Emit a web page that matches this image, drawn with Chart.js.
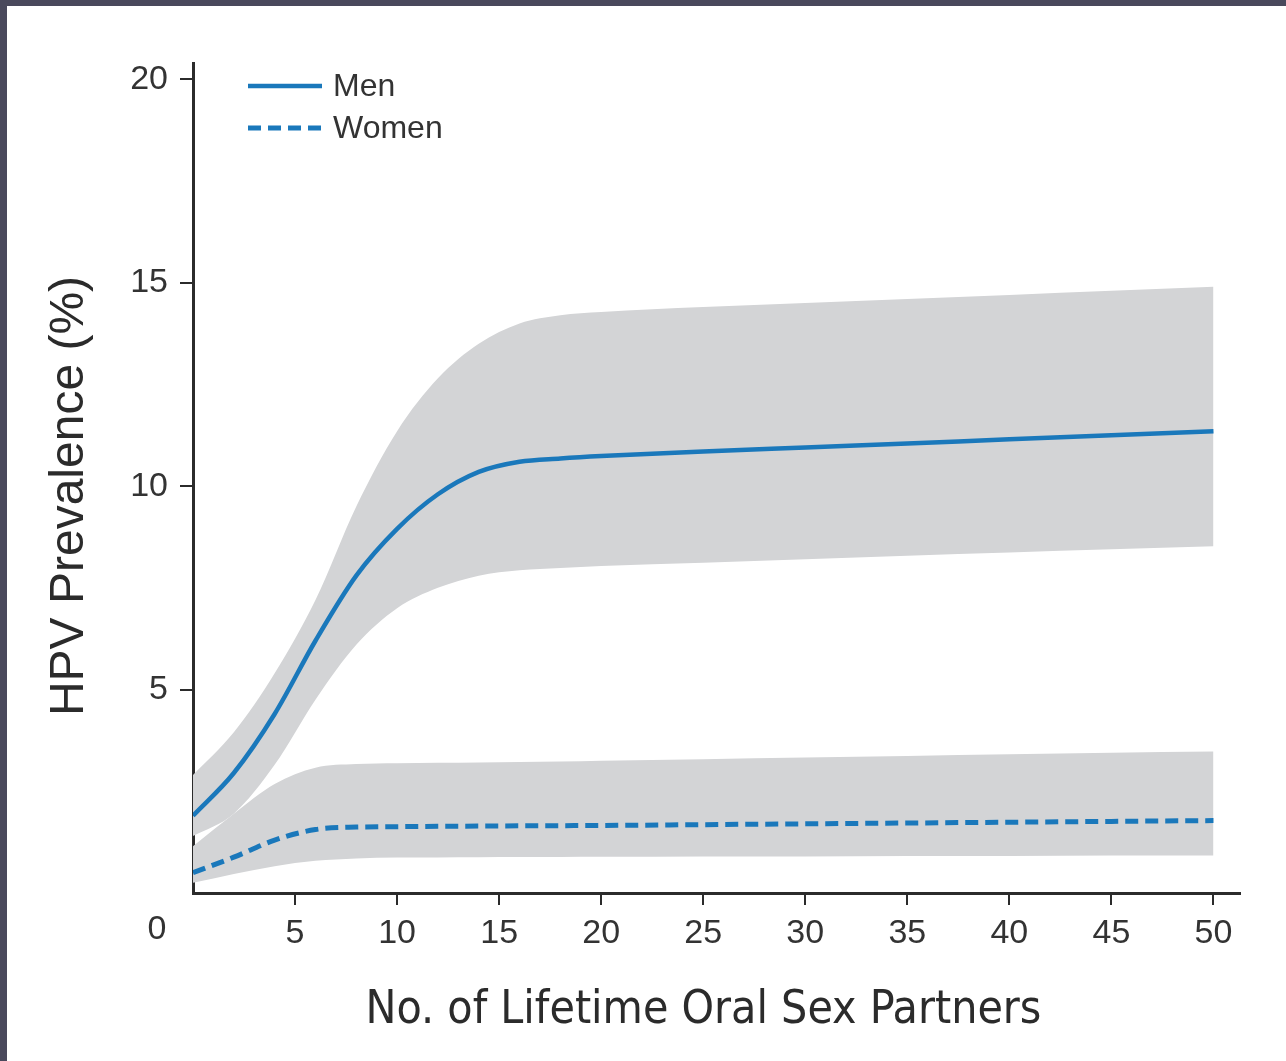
<!DOCTYPE html>
<html>
<head>
<meta charset="utf-8">
<script src="https://cdn.jsdelivr.net/npm/chart.js@4"></script>
<style>
  html, body { margin: 0; padding: 0; background: #4a495c; }
  #frame { position: absolute; left: 7px; top: 6px; width: 1279px; height: 1055px; background: #ffffff; }
  #frame canvas { display: block; }
</style>
</head>
<body>
<div id="frame"><canvas id="hpvChart" width="1279" height="1055"></canvas></div>
<script>
// number of lifetime oral sex partners
let partners   = [0, 2, 4, 6, 8, 10, 12, 14, 16, 18, 20, 25, 30, 35, 40, 45, 50];

// men: estimate and 95% band
let menRate    = [1.9, 2.95, 4.4, 6.2, 7.8, 8.95, 9.8, 10.35, 10.6, 10.68, 10.74, 10.85, 10.95, 11.05, 11.15, 11.25, 11.35];
let menHigh    = [2.9, 3.95, 5.4, 7.2, 9.5, 11.35, 12.65, 13.5, 14.0, 14.2, 14.28, 14.4, 14.5, 14.6, 14.7, 14.8, 14.9];
let menLow     = [1.4, 1.95, 3.15, 4.75, 6.1, 7.0, 7.5, 7.8, 7.93, 7.99, 8.04, 8.12, 8.2, 8.29, 8.37, 8.45, 8.52];

// women: estimate and 95% band
let womenRate  = [0.5, 0.88, 1.3, 1.56, 1.62, 1.63, 1.64, 1.645, 1.65, 1.655, 1.66, 1.68, 1.7, 1.72, 1.74, 1.76, 1.78];
let womenHigh  = [1.15, 1.95, 2.68, 3.08, 3.17, 3.19, 3.2, 3.21, 3.22, 3.23, 3.25, 3.29, 3.33, 3.37, 3.41, 3.45, 3.48];
let womenLow   = [0.25, 0.47, 0.66, 0.79, 0.85, 0.87, 0.875, 0.88, 0.882, 0.885, 0.89, 0.9, 0.9, 0.91, 0.91, 0.92, 0.92];

let xTicks = [5, 10, 15, 20, 25, 30, 35, 40, 45, 50];
let yTicks = [5, 10, 15, 20];

let xTitle = 'No. of Lifetime Oral Sex Partners';
let yTitle = 'HPV Prevalence (%)';

let blue = '#1a78bb';
let band = '#d3d4d6';
let ink  = '#2b2b2b';
let tickFont = '34px "Liberation Sans", Arial, sans-serif';

function pts(values) {
    return partners.map(function(p, i){ return { x: p, y: values[i] }; });
}

function bandSet(label, values, fill) {
    return {
        label: label,
        data: pts(values),
        borderWidth: 0,
        pointRadius: 0,
        backgroundColor: band,
        fill: fill,
        cubicInterpolationMode: 'monotone',
        order: 3
    };
}

// legend sitting inside the plot, top left
const innerLegend = {
    id: 'innerLegend',
    afterDraw: function(chart) {
        let ctx = chart.ctx;
        let area = chart.chartArea;
        let items = chart.data.datasets.filter(function(d){ return d.showInLegend; });
        ctx.save();
        items.forEach(function(d, i){
            let y = area.top + 23 + i * 42;
            ctx.beginPath();
            ctx.strokeStyle = d.borderColor;
            ctx.lineWidth = d.borderWidth;
            ctx.setLineDash(d.borderDash || []);
            ctx.moveTo(area.left + 55, y);
            ctx.lineTo(area.left + 129, y);
            ctx.stroke();
            ctx.setLineDash([]);
            ctx.fillStyle = '#333';
            ctx.font = '32px "Liberation Sans", Arial, sans-serif';
            ctx.textBaseline = 'middle';
            ctx.textAlign = 'left';
            ctx.fillText(d.label, area.left + 140, y + 1);
        });
        ctx.restore();
    }
};

// origin label under the corner, plus both axis titles
const axisText = {
    id: 'axisText',
    afterDraw: function(chart) {
        let ctx = chart.ctx;
        let area = chart.chartArea;
        let xs = chart.scales.x;
        ctx.save();
        ctx.fillStyle = '#333';
        ctx.font = tickFont;
        ctx.textAlign = 'center';
        ctx.textBaseline = 'top';
        ctx.fillText('0', xs.left - 36, xs.top + 12 + 8);

        ctx.fillStyle = ink;
        ctx.textBaseline = 'alphabetic';
        ctx.font = '46px "Liberation Sans Narrow", "DejaVu Sans Condensed", sans-serif';
        ctx.fillText(xTitle, (area.left + area.right) / 2 - 13, area.bottom + 130);

        ctx.translate(area.left - 110, (area.top + area.bottom) / 2 + 18);
        ctx.rotate(-Math.PI / 2);
        ctx.font = '48px "Liberation Sans", Arial, sans-serif';
        ctx.fillText(yTitle, 0, 0);
        ctx.restore();
    }
};

let ctx = document.getElementById('hpvChart').getContext('2d');
let chart = new Chart(ctx, {
    type: 'line',
    data: {
        datasets: [
            bandSet('menHigh', menHigh, '+1'),
            bandSet('menLow', menLow, false),
            bandSet('womenHigh', womenHigh, '+1'),
            bandSet('womenLow', womenLow, false),
            {
                label: 'Men',
                data: pts(menRate),
                borderColor: blue,
                borderWidth: 4.5,
                pointRadius: 0,
                fill: false,
                cubicInterpolationMode: 'monotone',
                showInLegend: true,
                order: 1
            },
            {
                label: 'Women',
                data: pts(womenRate),
                borderColor: blue,
                borderWidth: 5,
                borderDash: [13, 7],
                pointRadius: 0,
                fill: false,
                cubicInterpolationMode: 'monotone',
                showInLegend: true,
                order: 1
            }
        ]
    },
    options: {
        responsive: false,
        animation: false,
        layout: { padding: { top: 57, right: 46, left: 0, bottom: 0 } },
        plugins: {
            legend: { display: false },
            tooltip: { enabled: false }
        },
        scales: {
            x: {
                type: 'linear',
                min: 0,
                max: 51.3,
                afterBuildTicks: function(axis){
                    axis.ticks = xTicks.map(function(v){ return { value: v }; });
                },
                afterFit: function(axis){ axis.height = 168; },
                grid: { drawOnChartArea: false, drawTicks: true, tickLength: 12, color: ink, lineWidth: 2 },
                border: { display: true, color: ink, width: 3 },
                ticks: {
                    padding: 8,
                    color: '#333',
                    font: { family: '"Liberation Sans", Arial, sans-serif', size: 34 }
                }
            },
            y: {
                type: 'linear',
                min: 0,
                max: 20.4,
                afterBuildTicks: function(axis){
                    axis.ticks = yTicks.map(function(v){ return { value: v }; });
                },
                afterFit: function(axis){ axis.width = 186; },
                grid: { drawOnChartArea: false, drawTicks: true, tickLength: 13, color: ink, lineWidth: 2 },
                border: { display: true, color: ink, width: 3 },
                ticks: {
                    padding: 12,
                    color: '#333',
                    font: { family: '"Liberation Sans", Arial, sans-serif', size: 34 }
                }
            }
        }
    },
    plugins: [innerLegend, axisText]
});
</script>
</body>
</html>
